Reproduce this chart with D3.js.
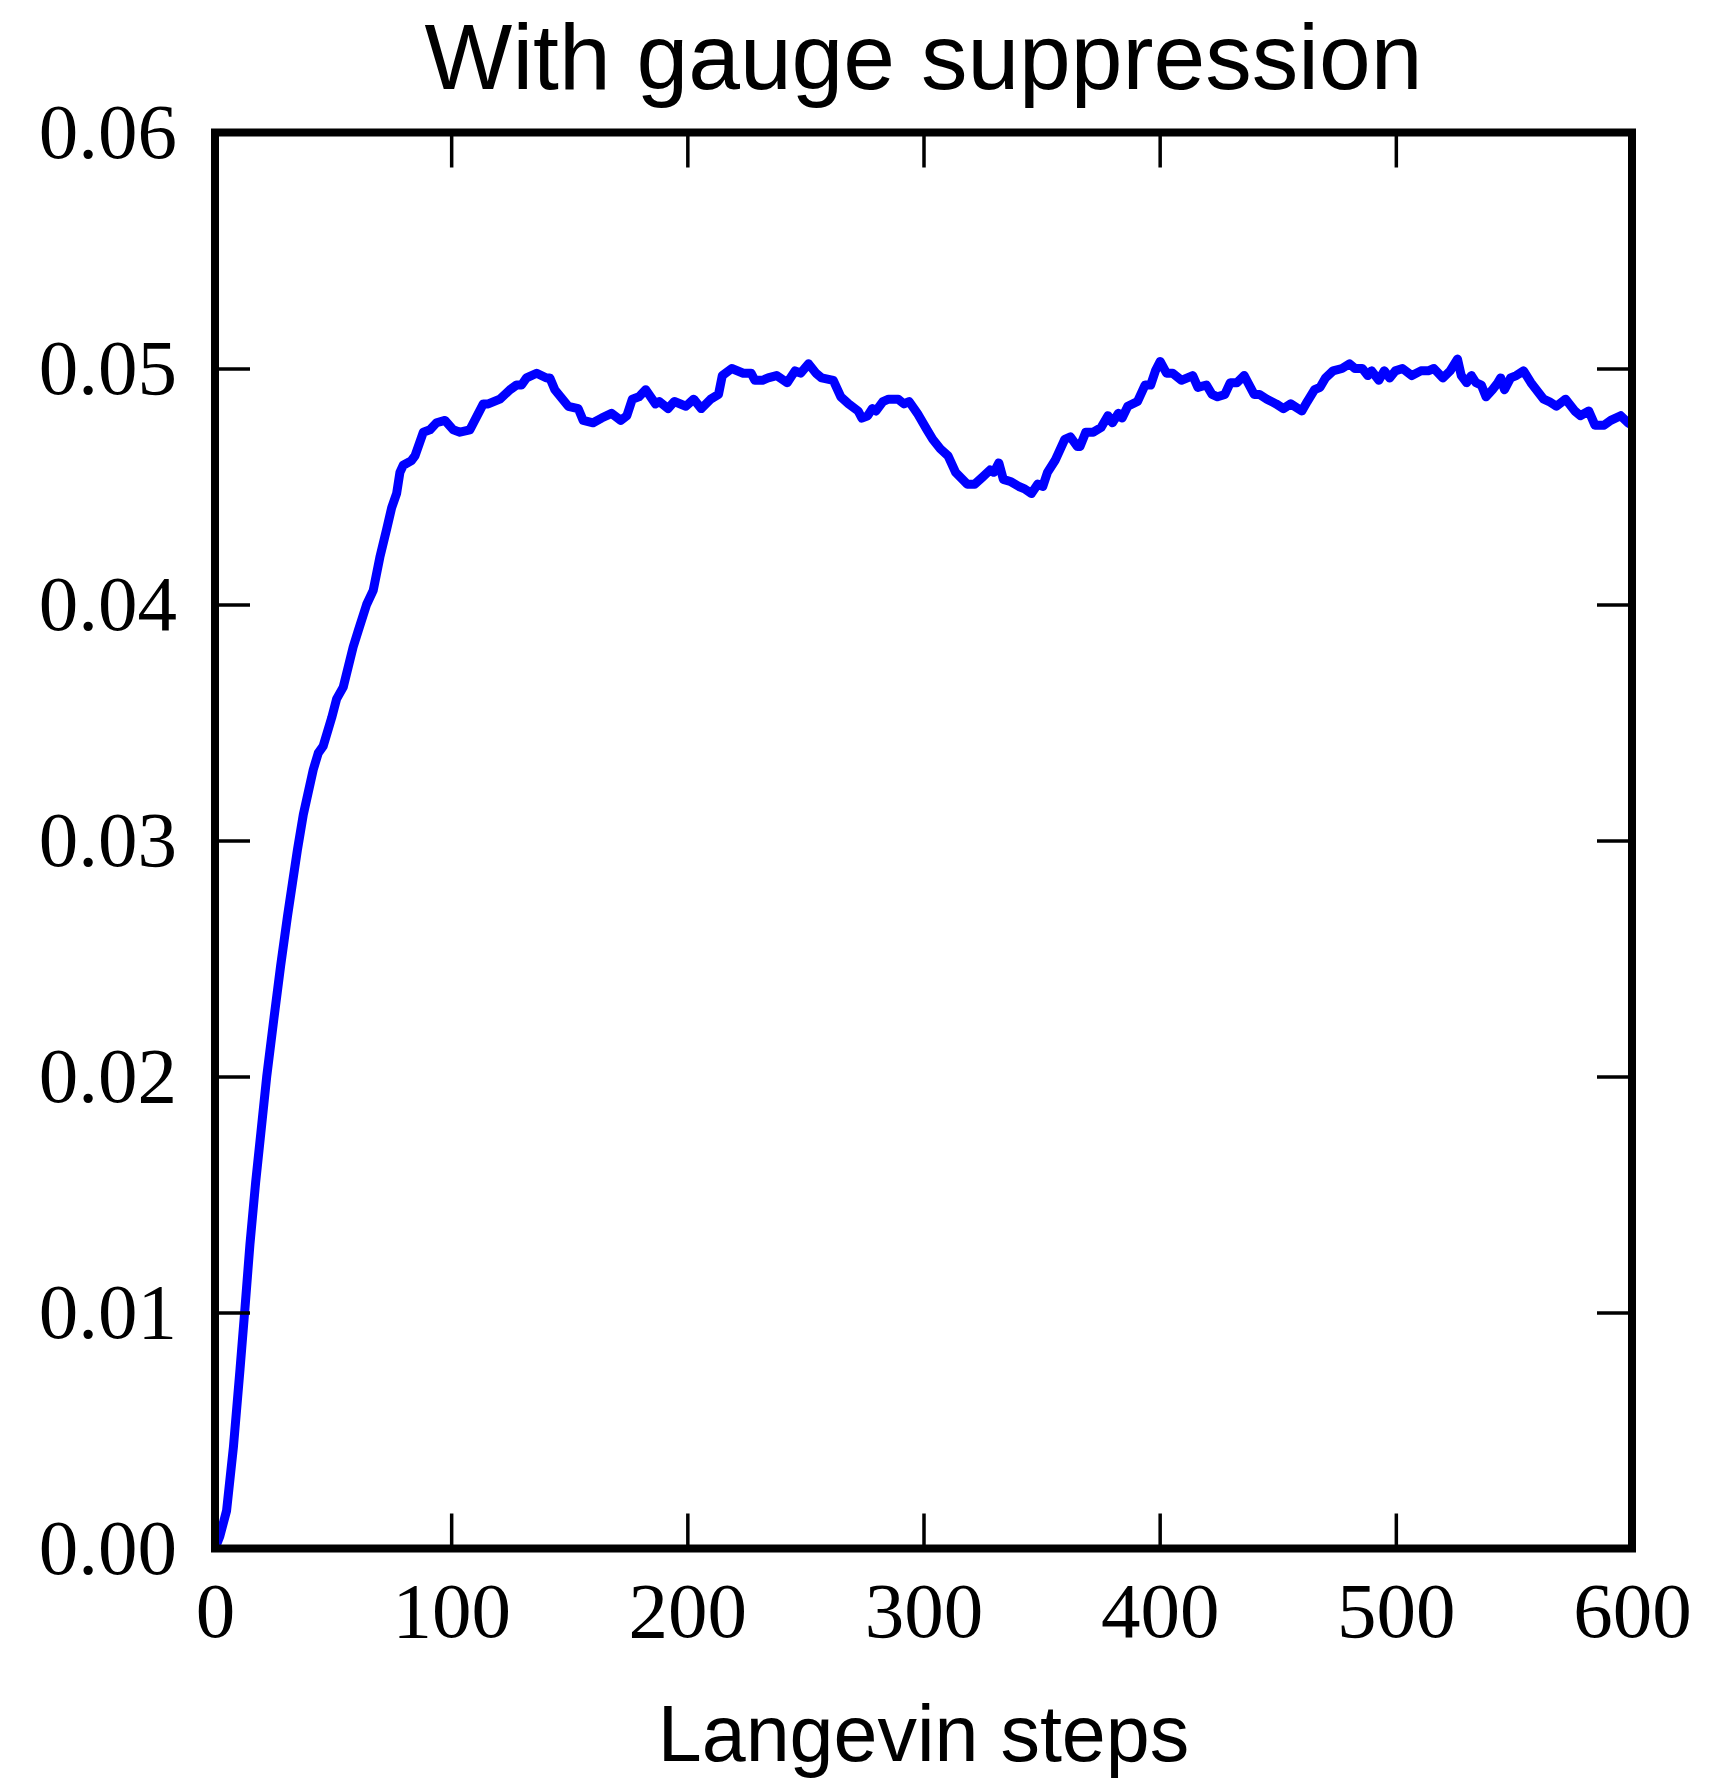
<!DOCTYPE html>
<html>
<head>
<meta charset="utf-8">
<script src="https://cdn.jsdelivr.net/npm/d3@7"></script>
<style>
  body { margin: 0; background: #fff; }
</style>
</head>
<body>
<div id="chart"></div>
<script>
// chart values
var titleText = "With gauge suppression";
var xLabelText = "Langevin steps";
var xTicks = [0, 100, 200, 300, 400, 500, 600];
var yTicks = [0, 0.01, 0.02, 0.03, 0.04, 0.05, 0.06];

var steps = [
  0, 2, 4.9, 7.8, 10.6, 12.7, 14.8, 17.2, 19.4, 21.9, 25.0, 27.8, 30.7, 32.8, 34.9, 37.4, 41.6, 43.7,
  45.8, 49.4, 51.5, 54.3, 58.5, 60.7, 64.2, 67.0, 69.8, 72.7, 74.8, 76.9, 78.3, 79.7, 83.2,
  84.7, 88.2, 91.0, 93.8, 97.4, 100.9, 103.7, 107.9, 113.6, 115.7, 120.6, 124.9, 127.7,
  129.8, 131.9, 136.2, 140.4, 141.8, 143.9, 149.6, 153.8, 155.9, 160.1, 163.7, 167.9,
  171.8, 174.4, 176.7, 179.5, 182.4, 186.5, 188.1, 191.8, 194.5, 199.4, 202.7, 205.9,
  209.9, 213.2, 214.8, 218.8, 223.7, 227.0, 228.6, 231.8, 234.2, 237.8, 242.3, 245.6,
  248.0, 251.3, 254.5, 256.9, 261.8, 265.0, 268.3, 272.3, 273.9, 276.4, 278.3, 279.9,
  282.8, 285.2, 289.3, 291.7, 293.9, 297.4, 301.5, 303.9, 307.1, 310.4, 313.6, 318.5,
  321.7, 325.0, 328.2, 329.8, 331.9, 333.8, 337.1, 340.4, 342.8, 345.7, 348.4, 350.5,
  352.5, 355.7, 359.8, 362.2, 365.1, 366.3, 368.7, 371.9, 375.2, 378.1, 380.0, 382.5,
  384.1, 386.5, 390.6, 393.8, 396.2, 398.2, 400.2, 402.9, 405.5, 409.2, 414.0, 416.2,
  419.8, 422.2, 424.5, 427.6, 429.9, 432.7, 435.8, 440.0, 442.3, 445.4, 449.3, 452.4,
  455.5, 460.2, 462.5, 465.6, 467.9, 470.2, 473.4, 477.2, 480.4, 482.7, 485.8, 488.1,
  489.7, 492.8, 495.1, 497.4, 499.8, 502.8, 506.8, 510.6, 513.7, 516.1, 519.9, 523.0,
  526.1, 527.7, 530.0, 532.0, 533.9, 536.2, 538.2, 540.9, 543.2, 544.4, 546.0, 548.6,
  551.0, 554.1, 557.2, 562.6, 564.9, 568.0, 571.9, 575.8, 578.1, 581.7, 584.3, 588.2,
  591.0, 595.2, 598.3, 600
];

var values = [
  0.0000, 0.0005, 0.0016, 0.0043, 0.0076, 0.0102, 0.0129, 0.0155, 0.0176, 0.0200, 0.0225,
  0.0247, 0.0268, 0.0282, 0.0296, 0.0311, 0.0330, 0.0337, 0.0340, 0.0352, 0.0360, 0.0365, 0.0382, 0.0389,
  0.0400, 0.0406, 0.0420, 0.0432, 0.0441, 0.0447, 0.0456, 0.0459, 0.0461, 0.0463, 0.0473,
  0.0474, 0.0477, 0.0478, 0.0474, 0.0473, 0.0474, 0.0485, 0.0485, 0.0487, 0.0491, 0.0493,
  0.0493, 0.0496, 0.0498, 0.0496, 0.0496, 0.0491, 0.0484, 0.0483, 0.0478, 0.0477, 0.0479,
  0.0481, 0.0478, 0.0480, 0.0487, 0.0488, 0.0491, 0.0485, 0.0486, 0.0483, 0.0486, 0.0484,
  0.0487, 0.0483, 0.0487, 0.0489, 0.0497, 0.0500, 0.0498, 0.0498, 0.0495, 0.0495, 0.0496,
  0.0497, 0.0494, 0.0499, 0.0498, 0.0502, 0.0498, 0.0496, 0.0495, 0.0488, 0.0485, 0.0482,
  0.0479, 0.0480, 0.0483, 0.0482, 0.0486, 0.0487, 0.0487, 0.0485, 0.0486, 0.0481, 0.0474,
  0.0470, 0.0466, 0.0463, 0.0456, 0.0451, 0.0451, 0.0454, 0.0457, 0.0456, 0.0460, 0.0453,
  0.0452, 0.0450, 0.0449, 0.0447, 0.0451, 0.0450, 0.0456, 0.0461, 0.0470, 0.0471, 0.0467,
  0.0467, 0.0473, 0.0473, 0.0475, 0.0480, 0.0477, 0.0481, 0.0479, 0.0484, 0.0486, 0.0493,
  0.0493, 0.0499, 0.0503, 0.0498, 0.0498, 0.0495, 0.0497, 0.0492, 0.0493, 0.0489, 0.0488,
  0.0489, 0.0494, 0.0494, 0.0497, 0.0489, 0.0489, 0.0487, 0.0485, 0.0483, 0.0485, 0.0482,
  0.0486, 0.0491, 0.0492, 0.0496, 0.0499, 0.0500, 0.0502, 0.0500, 0.0500, 0.0497, 0.0499,
  0.0495, 0.0499, 0.0496, 0.0499, 0.0500, 0.0497, 0.0499, 0.0499, 0.0500, 0.0496, 0.0499,
  0.0504, 0.0497, 0.0494, 0.0497, 0.0494, 0.0493, 0.0488, 0.0491, 0.0494, 0.0496, 0.0491,
  0.0496, 0.0497, 0.0499, 0.0494, 0.0487, 0.0486, 0.0484, 0.0487, 0.0482, 0.0480, 0.0482,
  0.0476, 0.0476, 0.0478, 0.0480, 0.0477, 0.0476
];

// layout of the figure
var W = 1725, H = 1780;
var plot = {left: 215, right: 1632, top: 132.5, bottom: 1548.5};
var tickLen = 35;

var svg = d3.select("#chart")
    .append("svg")
    .attr("width", W)
    .attr("height", H)
    .style("font-family", "'Liberation Serif', serif");

var x = d3.scaleLinear()
    .domain([0, 600])
    .range([plot.left, plot.right]);

var y = d3.scaleLinear()
    .domain([0, 0.06])
    .range([plot.bottom, plot.top]);

var data = steps.map(function(s, i) { return {step: s, value: values[i]}; });

// clip the line to the axes box
svg.append("clipPath")
    .attr("id", "plotClip")
    .append("rect")
    .attr("x", plot.left)
    .attr("y", plot.top)
    .attr("width", plot.right - plot.left)
    .attr("height", plot.bottom - plot.top);

var line = d3.line()
    .x(function(d) { return x(d.step); })
    .y(function(d) { return y(d.value); });

svg.append("path")
    .datum(data)
    .attr("clip-path", "url(#plotClip)")
    .attr("fill", "none")
    .attr("stroke", "#0000ff")
    .attr("stroke-width", 9)
    .attr("stroke-linejoin", "round")
    .attr("stroke-linecap", "round")
    .attr("d", line);

// axes, ticks pointing inward on all four sides
function styleAxis(g) {
    g.select(".domain").remove();
    g.selectAll(".tick line")
        .attr("stroke", "#000")
        .attr("stroke-width", 3.5);
    g.selectAll(".tick text")
        .attr("fill", "#000")
        .style("font-size", "79px")
        .style("font-family", "'Liberation Serif', serif");
}

svg.append("g")
    .attr("transform", "translate(0," + plot.bottom + ")")
    .call(d3.axisBottom(x).tickValues(xTicks).tickSize(-tickLen).tickPadding(32))
    .call(styleAxis);

svg.append("g")
    .attr("transform", "translate(" + plot.left + ",0)")
    .call(d3.axisLeft(y).tickValues(yTicks).tickSize(-tickLen).tickPadding(38)
        .tickFormat(d3.format(".2f")))
    .call(styleAxis);

svg.append("g")
    .attr("transform", "translate(0," + plot.top + ")")
    .call(d3.axisTop(x).tickValues(xTicks).tickSize(-tickLen).tickFormat(""))
    .call(styleAxis);

svg.append("g")
    .attr("transform", "translate(" + plot.right + ",0)")
    .call(d3.axisRight(y).tickValues(yTicks).tickSize(-tickLen).tickFormat(""))
    .call(styleAxis);

// frame
svg.append("rect")
    .attr("x", plot.left)
    .attr("y", plot.top)
    .attr("width", plot.right - plot.left)
    .attr("height", plot.bottom - plot.top)
    .attr("fill", "none")
    .attr("stroke", "#000")
    .attr("stroke-width", 8);

// title and axis label
svg.append("text")
    .attr("x", (plot.left + plot.right) / 2)
    .attr("y", 89)
    .attr("text-anchor", "middle")
    .style("font-family", "'Liberation Sans', Arial, sans-serif")
    .style("font-size", "93px")
    .text(titleText);

svg.append("text")
    .attr("x", (plot.left + plot.right) / 2)
    .attr("y", 1761)
    .attr("text-anchor", "middle")
    .style("font-family", "'Liberation Sans', Arial, sans-serif")
    .style("font-size", "79px")
    .text(xLabelText);
</script>
</body>
</html>
